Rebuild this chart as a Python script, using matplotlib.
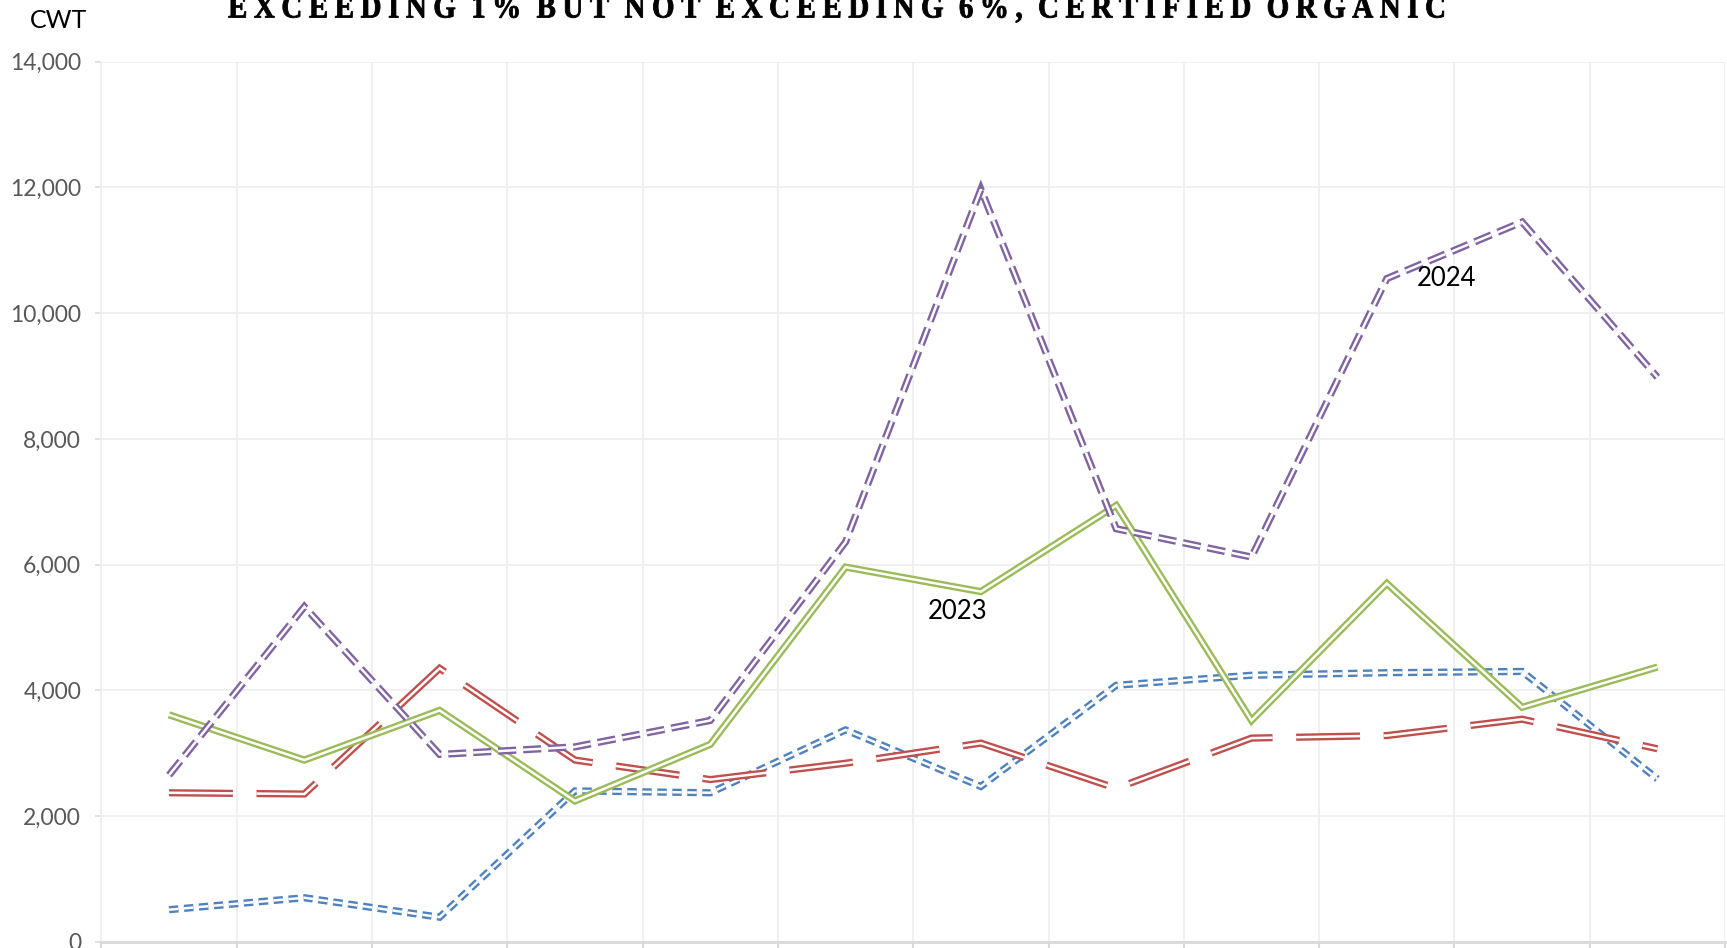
import matplotlib
matplotlib.use("Agg")
import matplotlib.pyplot as plt
import matplotlib.ticker as mticker
from matplotlib.textpath import TextPath
from matplotlib.patches import PathPatch
from matplotlib.path import Path
from matplotlib.font_manager import FontProperties, findfont, get_font
from matplotlib.transforms import Affine2D
import numpy as np

plt.rcParams["lines.scale_dashes"] = False
plt.rcParams["font.family"] = ["Lato", "DejaVu Sans"]

TITLE = "EXCEEDING 1% BUT NOT EXCEEDING 6%, CERTIFIED ORGANIC"
Y_LABEL = "CWT"
MONTHS = ["Jan", "Feb", "Mar", "Apr", "May", "Jun",
          "Jul", "Aug", "Sep", "Oct", "Nov", "Dec"]

blue_vals = [510, 700, 390, 2400, 2370, 3370, 2470, 4080, 4240, 4280, 4300, 2590]
red_vals = [2370, 2350, 4350, 2890, 2580, 2840, 3160, 2440, 3240, 3280, 3540, 3070]
green_vals = [3610, 2890, 3680, 2240, 3140, 5960, 5570, 6940, 3520, 5700, 3730, 4370]
purple_vals = [2650, 5330, 2980, 3100, 3520, 6360, 11970, 6570, 6120, 10550, 11450, 8980]

# (label, values, colour, dash pattern in points or None for solid)
SERIES = [
    ("2021", blue_vals, "#4F81BD", (6.8, 4.0)),
    ("2022", red_vals, "#C0504D", (46, 17)),
    ("2023", green_vals, "#9BBB59", None),
    ("2024", purple_vals, "#8064A2", (13, 5.0)),
]
ANNOTATIONS = [("2023", 5.83, 5260), ("2024", 9.44, 10550)]


def draw_double(ax, x, y, color, dashes):
    ls = "-" if dashes is None else (0, dashes)
    kw = dict(linestyle=ls, solid_joinstyle="miter", dash_joinstyle="miter",
              solid_capstyle="butt", dash_capstyle="butt")
    ax.plot(x, y, color=color, linewidth=5.2, **kw)
    ax.plot(x, y, color="white", linewidth=1.8, **kw)


def tracked_title(fig, text, left_px, right_px, baseline_px, size_px, condense, track_px):
    # letter-spaced, condensed serif title built glyph by glyph;
    # word spaces absorb whatever is left of the span
    fp = FontProperties(family="Liberation Serif", weight="bold")
    font = get_font(findfont(fp))
    font.set_size(100, 72)
    adv = [font.load_char(ord(c)).linearHoriAdvance / 65536.0 for c in text]
    sy = size_px / 100.0
    sx = sy * condense
    track = track_px / sx
    n_space = text.count(" ")
    letters_only = [a for c, a in zip(text, adv) if c != " "]
    n_letters = len(letters_only)
    space_w = ((right_px - left_px) / sx - sum(letters_only)
               - track * (n_letters - 1 - n_space)) / n_space
    paths, xpos = [], 0.0
    for i, (c, a) in enumerate(zip(text, adv)):
        if c == " ":
            xpos += space_w
            continue
        paths.append(TextPath((xpos, 0), c, size=100, prop=fp))
        xpos += a
        if i + 1 < len(text) and text[i + 1] != " ":
            xpos += track
    path = Path.make_compound_path(*paths)
    trans = Affine2D().scale(sx, sy).translate(left_px, fig.bbox.height - baseline_px)
    fig.add_artist(PathPatch(path, transform=trans, facecolor="black",
                             edgecolor="black", linewidth=0.6))


def main():
    fig = plt.figure(figsize=(17.27, 9.48), dpi=100)
    ax = fig.add_axes([0.0587, 0.0066, 0.9402, 0.9283])

    x = np.arange(len(MONTHS))
    for label, vals, color, dashes in SERIES:
        draw_double(ax, x, vals, color, dashes)

    for text, tx, ty in ANNOTATIONS:
        ax.text(tx, ty, text, fontsize=18.5, color="black", ha="center", va="center")

    ax.set_xlim(-0.5, len(MONTHS) - 0.5)
    ax.set_ylim(0, 14000)
    ax.set_xticks(np.arange(-0.5, len(MONTHS), 1.0))
    ax.set_xticklabels([])
    ax.set_yticks(np.arange(0, 14001, 2000))
    ax.yaxis.set_major_formatter(mticker.StrMethodFormatter("{x:,.0f}"))
    ax.tick_params(axis="y", labelsize=16.5, labelcolor="#595959", color="#D9D9D9",
                   length=4.5, width=1.1, pad=10)
    ax.tick_params(axis="x", color="#D9D9D9", length=5, width=1.5)
    ax.grid(True, color="#EEEEEE", linewidth=1.2)
    ax.set_axisbelow(True)
    for side in ("top", "right"):
        ax.spines[side].set_visible(False)
    ax.spines["left"].set_color("#EEEEEE")
    ax.spines["left"].set_linewidth(1.2)
    ax.spines["bottom"].set_color("#D9D9D9")
    ax.spines["bottom"].set_linewidth(2.0)

    fig.text(30 / 1727, 1 - 20 / 948, Y_LABEL, fontsize=18, color="black",
             ha="left", va="center")

    tracked_title(fig, TITLE, 228, 1446, 17.5, 33, 0.88, 6.5)

    fig.savefig("out.png", dpi=100)
    plt.close(fig)


if __name__ == "__main__":
    main()
